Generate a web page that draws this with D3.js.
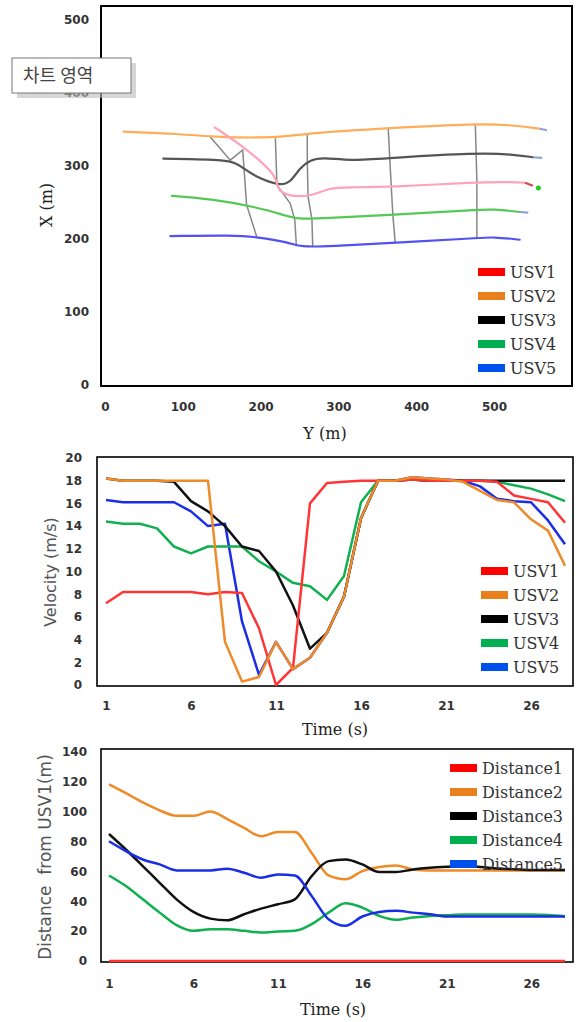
<!DOCTYPE html>
<html>
<head>
<meta charset="utf-8">
<script src="https://cdn.jsdelivr.net/npm/d3@7/dist/d3.min.js"></script>
<style>
  body { margin: 0; background: #fff; }
  svg { display: block; background: #fff; }
  .tick text { font-family: "DejaVu Sans", sans-serif; font-weight: bold; font-size: 12px; fill: #333; }
  .legend text { font-family: "DejaVu Serif", serif; font-size: 16px; fill: #333; }
  .title-serif { font-family: "DejaVu Serif", serif; font-size: 16px; fill: #222; }
  .title-sans { font-family: "DejaVu Sans", sans-serif; font-size: 16px; fill: #555; white-space: pre; }
</style>
</head>
<body>
<svg id="chart" width="580" height="1022"></svg>
<script>
// ---- data ----
const posTicks = [0, 100, 200, 300, 400, 500];
const timeSteps = [1, 2, 3, 4, 5, 6, 7, 8, 9, 10, 11, 12, 13, 14, 15, 16, 17, 18, 19, 20, 21, 22, 23, 24, 25, 26, 27, 28];
const timeTicks = [1, 6, 11, 16, 21, 26];
const velocityTicks = [0, 2, 4, 6, 8, 10, 12, 14, 16, 18, 20];
const distanceTicks = [0, 20, 40, 60, 80, 100, 120, 140];
const usvNames = ['USV1', 'USV2', 'USV3', 'USV4', 'USV5'];
const distNames = ['Distance1', 'Distance2', 'Distance3', 'Distance4', 'Distance5'];

// trajectories [Y (m), X (m)]
const usv1Path = [[141, 353], [180, 325], [208, 299], [220, 284], [222, 267], [234, 260], [251, 258], [267, 260], [289, 270], [311, 271], [366, 271], [478, 278], [524, 278], [540, 277]];
const usv2Path = [[24, 347], [96, 344], [135, 340], [221, 338], [260, 345], [366, 352], [478, 358], [524, 356], [559, 351]];
const usv3Path = [[75, 310], [161, 309], [174, 300], [195, 284], [225, 273], [238, 277], [251, 298], [263, 308], [280, 312], [315, 307], [366, 311], [478, 318], [524, 316], [550, 312]];
const usv4Path = [[86, 259], [135, 255], [195, 244], [238, 230], [251, 227], [289, 229], [366, 233], [478, 240], [499, 241], [533, 237]];
const usv5Path = [[84, 204], [165, 205], [195, 203], [238, 195], [251, 189], [289, 190], [370, 195], [478, 201], [499, 203], [533, 199]];
const usv1Tail = [[540, 277], [550, 273]];
const usv2Tail = [[559, 351], [568, 349]];
const usv3Tail = [[550, 312], [562, 311]];
const usv4Tail = [[533, 237], [544, 236]];
const usv1End = [[557, 270]];

// formation links between the boats
const formationA = [[135, 340], [161, 308], [177, 322], [182, 247], [195, 203]];
const formationB = [[219, 338], [221, 274], [238, 249], [244, 226], [246, 190]];
const formationC = [[260, 345], [260, 308], [261, 258], [266, 227], [267, 189]];
const formationD = [[364, 352], [366, 311], [368, 271], [370, 233], [373, 195]];
const formationE = [[476, 358], [477, 318], [478, 278], [478, 240], [478, 201]];

// velocity (m/s)
const velUSV1 = [7.2, 8.2, 8.2, 8.2, 8.2, 8.2, 8.0, 8.2, 8.1, 5.0, 0.0, 1.5, 16.0, 17.8, 17.9, 18.0, 18.0, 18.0, 18.1, 18.0, 18.0, 18.0, 18.0, 17.9, 16.7, 16.4, 16.1, 14.3];
const velUSV2 = [18.2, 18.0, 18.0, 18.0, 18.0, 18.0, 18.0, 3.8, 0.3, 0.7, 3.8, 1.4, 2.4, 4.6, 7.8, 14.7, 18.0, 18.0, 18.3, 18.2, 18.1, 17.9, 17.1, 16.3, 16.1, 14.6, 13.6, 10.5];
const velUSV3 = [18.2, 18.0, 18.0, 18.0, 17.9, 16.2, 15.3, 14.0, 12.2, 11.8, 10.0, 7.0, 3.2, 4.6, 7.8, 14.7, 18.0, 18.0, 18.1, 18.0, 18.0, 18.0, 18.0, 18.0, 18.0, 18.0, 18.0, 18.0];
const velUSV4 = [14.4, 14.2, 14.2, 13.8, 12.2, 11.6, 12.2, 12.2, 12.2, 10.9, 10.0, 9.0, 8.7, 7.5, 9.6, 16.1, 18.0, 18.0, 18.1, 18.0, 18.0, 18.0, 18.0, 17.9, 17.6, 17.3, 16.8, 16.2];
const velUSV5 = [16.3, 16.1, 16.1, 16.1, 16.1, 15.3, 14.0, 14.2, 5.6, 0.9, 3.8, 1.4, 2.4, 4.6, 7.8, 14.7, 18.0, 18.0, 18.3, 18.2, 18.1, 18.0, 17.5, 16.4, 16.2, 16.1, 14.5, 12.4];

// distance from USV1 (m)
const dist1 = [0, 0, 0, 0, 0, 0, 0, 0, 0, 0, 0, 0, 0, 0, 0, 0, 0, 0, 0, 0, 0, 0, 0, 0, 0, 0, 0, 0];
const dist2 = [118.4, 112.4, 106.2, 100.9, 97.3, 97.3, 100.2, 95.1, 89.1, 83.6, 86.4, 86.4, 72.4, 57.3, 54.7, 60.2, 62.9, 64.0, 61.3, 60.7, 60.7, 60.7, 60.7, 60.7, 60.7, 60.7, 60.7, 60.7];
const dist3 = [85.1, 74.7, 63.6, 52.4, 41.3, 32.9, 28.4, 27.3, 31.3, 35.1, 38.0, 41.3, 56.9, 66.9, 68.0, 64.7, 59.6, 59.6, 61.3, 62.4, 63.1, 63.6, 63.0, 62.0, 61.5, 61.0, 61.0, 61.0];
const dist4 = [57.3, 50.2, 41.3, 32.4, 24.0, 20.2, 21.3, 21.3, 20.2, 19.1, 19.8, 20.2, 24.7, 32.4, 38.7, 35.8, 30.2, 27.6, 29.1, 30.2, 30.7, 31.1, 31.1, 31.1, 31.1, 31.1, 30.8, 30.0];
const dist5 = [80.2, 73.6, 68.0, 64.7, 60.7, 60.7, 60.7, 61.8, 59.1, 55.8, 58.0, 57.3, 43.6, 28.0, 23.6, 29.8, 32.9, 33.6, 32.4, 31.3, 29.8, 29.8, 29.8, 29.8, 29.8, 29.8, 29.8, 29.8];

const legendColors = ['#ff0000', '#e8801e', '#000000', '#00b050', '#0050ee'];

const svg = d3.select('#chart');

function legend(x, y0, step, names) {
    const g = svg.append('g').classed('legend', true);
    names.forEach((n, i) => {
        g.append('rect')
            .attr('x', x).attr('y', y0 + i * step - 4)
            .attr('width', 27).attr('height', 8)
            .attr('fill', legendColors[i]);
        g.append('text')
            .attr('x', x + 32).attr('y', y0 + i * step)
            .attr('dy', '0.35em')
            .text(n);
    });
}

function cleanAxis(g) {
    g.select('.domain').remove();
}

// ---- top: trajectories ----
function plotTrajectory() {
    const xScale = d3.scaleLinear().domain([0, 500]).range([105, 494]);
    const yScale = d3.scaleLinear().domain([0, 500]).range([385, 20]);

    svg.append('g')
        .attr('transform', 'translate(101,0)')
        .call(d3.axisLeft(yScale).tickValues(posTicks).tickSize(0).tickPadding(12))
        .call(cleanAxis);
    svg.append('g')
        .attr('transform', 'translate(0,386)')
        .call(d3.axisBottom(xScale).tickValues(posTicks).tickSize(0).tickPadding(16))
        .call(cleanAxis);

    const line = d3.line().x(d => xScale(d[0])).y(d => yScale(d[1]));
    const smooth = d3.line().x(d => xScale(d[0])).y(d => yScale(d[1])).curve(d3.curveBasis);

    [formationA, formationB, formationC, formationD, formationE].forEach(f => {
        svg.append('path').attr('d', line(f))
            .attr('fill', 'none').attr('stroke', '#5e5e5e').attr('stroke-width', 1.5)
            .attr('opacity', 0.75);
    });

    const paths = [
        [usv2Path, '#ffad5a'], [usv3Path, '#555555'], [usv1Path, '#ffa3ba'],
        [usv4Path, '#55c855'], [usv5Path, '#5252f0']
    ];
    paths.forEach(([p, c]) => {
        svg.append('path').attr('d', smooth(p))
            .attr('fill', 'none').attr('stroke', c).attr('stroke-width', 2.2)
            .attr('stroke-linecap', 'round');
    });
    [usv2Tail, usv3Tail, usv4Tail].forEach(t => {
        svg.append('path').attr('d', line(t))
            .attr('fill', 'none').attr('stroke', '#8ea2d8').attr('stroke-width', 2.2);
    });
    svg.append('path').attr('d', line(usv1Tail))
        .attr('fill', 'none').attr('stroke', '#d84848').attr('stroke-width', 2.2);
    svg.selectAll('.end-dot').data(usv1End).enter().append('circle')
        .attr('cx', d => xScale(d[0])).attr('cy', d => yScale(d[1]))
        .attr('r', 2.5).attr('fill', '#22cc22');

    svg.append('rect')
        .attr('x', 101).attr('y', 6).attr('width', 471).attr('height', 380)
        .attr('fill', 'none').attr('stroke', '#000').attr('stroke-width', 2);

    svg.append('text').classed('title-serif', true)
        .attr('x', 325).attr('y', 439).attr('text-anchor', 'middle').text('Y (m)');
    svg.append('text').classed('title-serif', true)
        .attr('transform', 'translate(52,205) rotate(-90)')
        .attr('text-anchor', 'middle').text('X (m)');

    legend(478, 272, 24, usvNames);

    // Excel tooltip left in the screenshot
    const tip = svg.append('g');
    tip.append('rect').attr('x', 17).attr('y', 63).attr('width', 119).attr('height', 35)
        .attr('fill', '#bbb').attr('opacity', 0.6);
    tip.append('rect').attr('x', 12).attr('y', 58).attr('width', 119).attr('height', 35)
        .attr('fill', '#fff').attr('stroke', '#777').attr('stroke-width', 1);
    tip.append('text').attr('x', 23).attr('y', 82)
        .style('font-family', '"Noto Sans CJK KR", sans-serif')
        .style('font-size', '18px').attr('fill', '#444')
        .text('차트 영역');
}

// ---- middle: velocity ----
function plotVelocity() {
    const xScale = d3.scaleLinear().domain([1, 28]).range([106, 565]);
    const yScale = d3.scaleLinear().domain([0, 20]).range([685, 458]);

    svg.append('g')
        .attr('transform', 'translate(97,0)')
        .call(d3.axisLeft(yScale).tickValues(velocityTicks).tickSize(0).tickPadding(15))
        .call(cleanAxis);
    svg.append('g')
        .attr('transform', 'translate(0,686)')
        .call(d3.axisBottom(xScale).tickValues(timeTicks).tickSize(0).tickPadding(15))
        .call(cleanAxis);

    svg.append('rect')
        .attr('x', 97).attr('y', 457).attr('width', 476).attr('height', 229)
        .attr('fill', 'none').attr('stroke', '#000').attr('stroke-width', 1.6);

    const series = [
        [velUSV5, '#1a2ee6'], [velUSV4, '#10b050'], [velUSV3, '#111111'],
        [velUSV1, '#ff3535'], [velUSV2, '#ee8a28']
    ];
    series.forEach(([vals, c]) => {
        const line = d3.line()
            .x((d, i) => xScale(timeSteps[i]))
            .y(d => yScale(d));
        svg.append('path').attr('d', line(vals))
            .attr('fill', 'none').attr('stroke', c).attr('stroke-width', 2.5)
            .attr('stroke-linejoin', 'round');
    });

    svg.append('text').classed('title-serif', true)
        .attr('x', 335).attr('y', 735).attr('text-anchor', 'middle').text('Time (s)');
    svg.append('text').classed('title-sans', true)
        .attr('transform', 'translate(56,572) rotate(-90)')
        .attr('text-anchor', 'middle').text('Velocity (m/s)');

    legend(481, 571, 24, usvNames);
}

// ---- bottom: distance from USV1 ----
function plotDistance() {
    const xScale = d3.scaleLinear().domain([1, 28]).range([109, 565]);
    const yScale = d3.scaleLinear().domain([0, 140]).range([961, 752]);

    svg.append('g')
        .attr('transform', 'translate(101,0)')
        .call(d3.axisLeft(yScale).tickValues(distanceTicks).tickSize(0).tickPadding(14))
        .call(cleanAxis);
    svg.append('g')
        .attr('transform', 'translate(0,962)')
        .call(d3.axisBottom(xScale).tickValues(timeTicks).tickSize(0).tickPadding(17))
        .call(cleanAxis);

    svg.append('rect')
        .attr('x', 101).attr('y', 749).attr('width', 472).attr('height', 213)
        .attr('fill', 'none').attr('stroke', '#000').attr('stroke-width', 1.6);

    const series = [
        [dist1, '#ff3535'], [dist2, '#ee8a28'], [dist3, '#111111'],
        [dist4, '#10b050'], [dist5, '#1a2ee6']
    ];
    series.forEach(([vals, c]) => {
        const line = d3.line()
            .x((d, i) => xScale(timeSteps[i]))
            .y(d => yScale(d))
            .curve(d3.curveMonotoneX);
        svg.append('path').attr('d', line(vals))
            .attr('fill', 'none').attr('stroke', c).attr('stroke-width', 2.5);
    });

    svg.append('text').classed('title-serif', true)
        .attr('x', 333).attr('y', 1015).attr('text-anchor', 'middle').text('Time (s)');
    svg.append('text').classed('title-sans', true)
        .attr('transform', 'translate(51,857) rotate(-90)')
        .style('font-size', '17px')
        .attr('text-anchor', 'middle').text('Distance  from USV1(m)');

    legend(450, 768, 24, distNames);
}

plotTrajectory();
plotVelocity();
plotDistance();
</script>
</body>
</html>
